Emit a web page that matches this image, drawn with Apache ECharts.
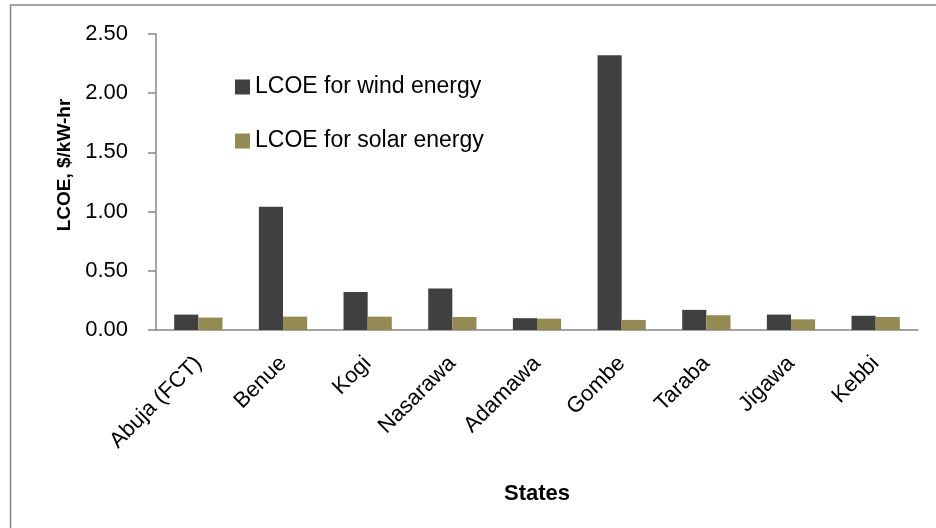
<!DOCTYPE html>
<html>
<head>
<meta charset="utf-8">
<script src="https://cdn.jsdelivr.net/npm/echarts@6/dist/echarts.min.js"></script>
<style>
  html, body { margin: 0; padding: 0; background: #fff; }
  #chart { width: 936px; height: 528px; }
</style>
</head>
<body>
<div id="chart"></div>
<script>
  const states = ['Abuja (FCT)', 'Benue', 'Kogi', 'Nasarawa', 'Adamawa', 'Gombe', 'Taraba', 'Jigawa', 'Kebbi']
  const windLcoe = [0.13, 1.04, 0.32, 0.35, 0.10, 2.32, 0.17, 0.13, 0.12]
  const solarLcoe = [0.105, 0.113, 0.113, 0.11, 0.096, 0.085, 0.125, 0.09, 0.11]
  const yTicks = { min: 0, max: 2.5, step: 0.5 }

  const font = 'Liberation Sans'
  const axisGrey = '#868686'

  const chart = echarts.init(document.getElementById('chart'))

  chart.setOption({
    animation: false,
    textStyle: { fontFamily: font },
    grid: {
      left: 156,
      right: 18,
      top: 34,
      bottom: 198,
    },
    legend: {
      orient: 'vertical',
      left: 230,
      top: 70,
      icon: 'rect',
      itemWidth: 15,
      itemHeight: 15,
      itemGap: 30,
      textStyle: {
        fontFamily: font,
        fontSize: 23,
        lineHeight: 24,
        color: '#000',
      },
      data: ['LCOE for wind energy', 'LCOE for solar energy'],
    },
    xAxis: {
      type: 'category',
      data: states,
      name: 'States',
      nameLocation: 'middle',
      nameGap: 153,
      nameTextStyle: {
        fontFamily: font,
        fontSize: 22,
        fontWeight: 'bold',
        color: '#000',
      },
      axisLine: { lineStyle: { color: axisGrey, width: 1.5 } },
      axisTick: { length: 8, lineStyle: { color: axisGrey, width: 1.5 } },
      axisLabel: {
        rotate: 45,
        margin: 30,
        fontSize: 22,
        color: '#000',
        fontFamily: font,
      },
    },
    yAxis: {
      type: 'value',
      min: yTicks.min,
      max: yTicks.max,
      interval: yTicks.step,
      splitLine: { show: false },
      axisLine: { show: true, lineStyle: { color: axisGrey, width: 1.5 } },
      axisTick: { show: true, length: 8, lineStyle: { color: axisGrey, width: 1.5 } },
      axisLabel: {
        margin: 28,
        fontSize: 22,
        color: '#000',
        fontFamily: font,
        formatter: (v) => v.toFixed(2),
      },
    },
    graphic: [
      {
        type: 'rect',
        shape: { x: 10.5, y: 5, width: 1000, height: 600 },
        style: { fill: 'none', stroke: axisGrey, lineWidth: 1.5 },
        silent: true,
        z: -10,
      },
      {
        type: 'text',
        x: 65,
        y: 165,
        rotation: Math.PI / 2,
        style: {
          text: 'LCOE, $/kW-hr',
          fontFamily: font,
          fontSize: 19,
          fontWeight: 'bold',
          fill: '#000',
          align: 'center',
          verticalAlign: 'middle',
        },
      },
    ],
    series: [
      {
        name: 'LCOE for wind energy',
        type: 'bar',
        data: windLcoe,
        barGap: '0%',
        barCategoryGap: '43%',
        itemStyle: { color: '#404040' },
      },
      {
        name: 'LCOE for solar energy',
        type: 'bar',
        data: solarLcoe,
        itemStyle: { color: '#948A54' },
      },
    ],
  })
</script>
</body>
</html>
